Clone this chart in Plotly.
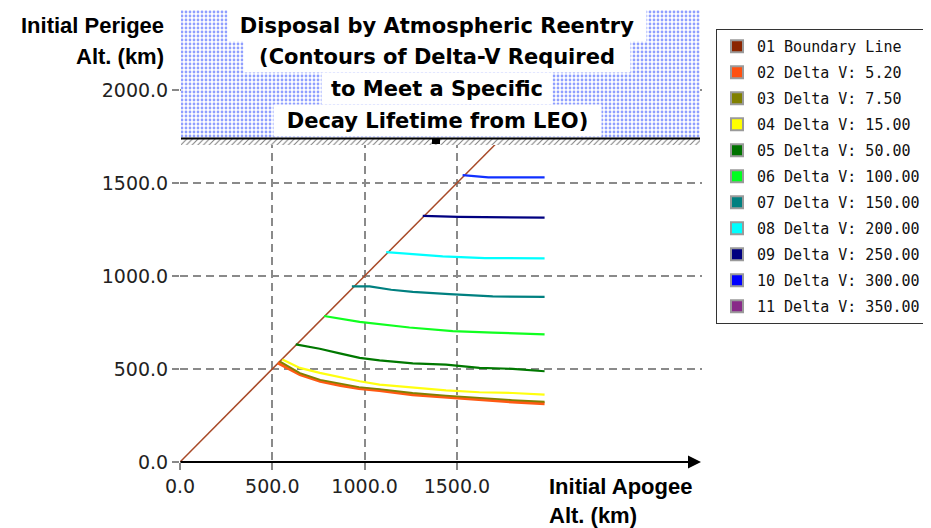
import plotly.graph_objects as go

# ---------------- data ----------------
series_names = [
    "01 Boundary Line", "02 Delta V: 5.20", "03 Delta V: 7.50", "04 Delta V: 15.00",
    "05 Delta V: 50.00", "06 Delta V: 100.00", "07 Delta V: 150.00", "08 Delta V: 200.00",
    "09 Delta V: 250.00", "10 Delta V: 300.00", "11 Delta V: 350.00",
]
legend_colors = ["#8B2500", "#FF5010", "#808000", "#FFFF00", "#007300", "#00FF20",
                 "#008080", "#00FFFF", "#000080", "#0000FF", "#882A88"]
line_colors = ["#A84a28", "#FF5A14", "#808000", "#FFFF10", "#007800", "#10FF20",
               "#008080", "#00FFFF", "#000080", "#1030FF", "#882A88"]

boundary_apogee = [0, 1745]
boundary_perigee = [0, 1745]

dv005_apogee = [530, 650, 760, 870, 970, 1080, 1260, 1440, 1620, 1800, 1975]
dv005_perigee = [533, 470, 434, 411, 395, 385, 362, 348, 335, 323, 314]

dv007_apogee = [540, 650, 760, 870, 970, 1080, 1260, 1440, 1620, 1800, 1975]
dv007_perigee = [541, 478, 442, 419, 402, 392, 371, 357, 344, 333, 324]

dv015_apogee = [555, 649, 757, 865, 973, 1081, 1261, 1441, 1622, 1802, 1975]
dv015_perigee = [551, 506, 479, 456, 434, 416, 402, 385, 375, 371, 362]

dv050_apogee = [627, 757, 865, 973, 1081, 1261, 1441, 1622, 1802, 1975]
dv050_perigee = [632, 609, 584, 560, 546, 530, 524, 506, 501, 488]

dv100_apogee = [780, 973, 1243, 1477, 1694, 1975]
dv100_perigee = [785, 753, 723, 704, 696, 686]

dv150_apogee = [931, 1027, 1144, 1261, 1459, 1694, 1975]
dv150_perigee = [944, 944, 926, 915, 903, 890, 888]

dv200_apogee = [1117, 1229, 1423, 1652, 1975]
dv200_perigee = [1128, 1119, 1106, 1096, 1095]

dv250_apogee = [1315, 1508, 1975]
dv250_perigee = [1323, 1318, 1314]

dv300_apogee = [1531, 1670, 1975]
dv300_perigee = [1542, 1530, 1530]

dv350_apogee = []
dv350_perigee = []

x_ticks = [0, 500, 1000, 1500]
y_ticks = [0, 500, 1000, 1500, 2000]

title_lines = ["Disposal by Atmospheric Reentry", "(Contours of Delta-V Required",
               "to Meet a Specific", "Decay Lifetime from LEO)"]

# ---------------- layout geometry (screen pixels; page has an 8px body margin) ----------------
PAGE_W, PAGE_H = 931, 528
BODY = 8
W, H = PAGE_W - BODY, PAGE_H - BODY
L, R, T, B = 180, 702, 10, 462          # plot area in screen pixels
PX_PER_KM_X = 0.1846
PX_PER_KM_Y = 0.186
xmax = (R - L) / PX_PER_KM_X
ymax = (B - T) / PX_PER_KM_Y


def px(xs):
    return (xs - L) / (R - L)


def py(ys):
    return (B - ys) / (B - T)


series = [
    (boundary_apogee, boundary_perigee), (dv005_apogee, dv005_perigee),
    (dv007_apogee, dv007_perigee), (dv015_apogee, dv015_perigee),
    (dv050_apogee, dv050_perigee), (dv100_apogee, dv100_perigee),
    (dv150_apogee, dv150_perigee), (dv200_apogee, dv200_perigee),
    (dv250_apogee, dv250_perigee), (dv300_apogee, dv300_perigee),
    (dv350_apogee, dv350_perigee),
]
line_widths = [1.5, 3.2, 1.8, 2.2, 2.2, 2.2, 2.2, 2.2, 2.2, 2.2, 2.2]

fig = go.Figure()

# decorations on a pixel-coordinate overlay axis
box_x0, box_x1, box_y0, box_y1 = 181, 700, 10, 138
fig.add_trace(go.Scatter(
    x=[box_x0, box_x1, box_x1, box_x0, box_x0], y=[box_y0, box_y0, box_y1, box_y1, box_y0],
    xaxis="x2", yaxis="y2", mode="none", fill="toself", fillcolor="white",
    fillpattern=dict(shape=".", fgcolor="#2040ff", bgcolor="white", size=4, solidity=0.38),
    hoverinfo="skip", showlegend=False))
fig.add_trace(go.Scatter(
    x=[box_x0, box_x1, box_x1, box_x0, box_x0], y=[box_y1, box_y1, box_y1 + 7, box_y1 + 7, box_y1],
    xaxis="x2", yaxis="y2", mode="none", fill="toself", fillcolor="white",
    fillpattern=dict(shape="/", fgcolor="#000000", bgcolor="white", size=4, solidity=0.25),
    hoverinfo="skip", showlegend=False))

for i, (name, (xs, ys)) in enumerate(zip(series_names, series)):
    fig.add_trace(go.Scatter(
        x=xs, y=ys, mode="lines", name=name, legendgroup=name, showlegend=False,
        line=dict(color=line_colors[i], width=line_widths[i]),
        hoverinfo="skip"))
    fig.add_trace(go.Scatter(
        x=[None], y=[None], mode="markers", name=name, legendgroup=name, showlegend=True,
        marker=dict(symbol="square", size=16, color=legend_colors[i],
                    line=dict(color="#9a9a9a", width=1))))

annotations = []
title_y = [25, 56, 88, 120]
title_w = [418, 386, 230, 327]
for txt, yy, ww in zip(title_lines, title_y, title_w):
    annotations.append(dict(
        text="<b>" + txt + "</b>", xref="x2", yref="y2", x=437, y=yy, showarrow=False,
        xanchor="center", yanchor="middle", bgcolor="white", borderpad=0, width=ww, height=31,
        font=dict(family="DejaVu Sans", size=21, color="#000")))

axis_title_font = dict(family="Liberation Sans", size=22, color="#000")
annotations += [
    dict(text="<b>Initial Perigee</b>", xref="paper", yref="paper", x=px(166), y=py(25),
         showarrow=False, xanchor="right", yanchor="middle", font=axis_title_font),
    dict(text="<b>Alt. (km)</b>", xref="paper", yref="paper", x=px(166), y=py(56),
         showarrow=False, xanchor="right", yanchor="middle", font=axis_title_font),
    dict(text="<b>Initial Apogee</b>", xref="paper", yref="paper", x=px(547), y=py(486),
         showarrow=False, xanchor="left", yanchor="middle", font=axis_title_font),
    dict(text="<b>Alt. (km)</b>", xref="paper", yref="paper", x=px(547), y=py(515),
         showarrow=False, xanchor="left", yanchor="middle", font=axis_title_font),
    # axis arrows
    dict(text="", xref="x2", yref="y2", axref="x2", ayref="y2", x=701, y=462, ax=179, ay=462,
         showarrow=True, arrowhead=2, arrowsize=1.3, arrowwidth=2, arrowcolor="#000", standoff=0),
    dict(text="", xref="x2", yref="y2", axref="x2", ayref="y2", x=179, y=12, ax=179, ay=462,
         showarrow=True, arrowhead=2, arrowsize=1.3, arrowwidth=2, arrowcolor="#000", standoff=0),
]

shapes = [
    dict(type="line", xref="x2", yref="y2", x0=box_x0, x1=box_x1, y0=box_y1 + 0.5, y1=box_y1 + 0.5,
         line=dict(color="#000", width=2)),
    dict(type="rect", xref="x2", yref="y2", x0=432, x1=440, y0=138, y1=144,
         fillcolor="#000", line=dict(width=0)),
]

axis_common = dict(showline=False, zeroline=False, showgrid=True, gridcolor="#8a8a8a",
                   gridwidth=1.5, griddash="8px,5px", ticks="outside", ticklen=7,
                   tickcolor="#888", tickwidth=1.5, tickformat=".1f",
                   tickfont=dict(family="DejaVu Sans", size=19, color="#222"))

fig.update_layout(
    width=W, height=H, paper_bgcolor="white", plot_bgcolor="white",
    margin=dict(l=L - BODY, r=PAGE_W - R, t=T - BODY, b=PAGE_H - B, pad=0),
    xaxis=dict(range=[0, xmax], tickvals=x_ticks, **axis_common),
    yaxis=dict(range=[0, ymax], tickvals=y_ticks, **axis_common),
    xaxis2=dict(range=[L, R], overlaying="x", visible=False, fixedrange=True),
    yaxis2=dict(range=[B, T], overlaying="y", visible=False, fixedrange=True),
    showlegend=True,
    legend=dict(x=px(716), y=py(29), xanchor="left", yanchor="top",
                bordercolor="#333", borderwidth=1, bgcolor="white", tracegroupgap=3.5,
                font=dict(family="DejaVu Sans Mono", size=15, color="#111"),
                itemsizing="constant", itemwidth=30),
    annotations=annotations, shapes=shapes,
)

fig.write_html("out.html")
